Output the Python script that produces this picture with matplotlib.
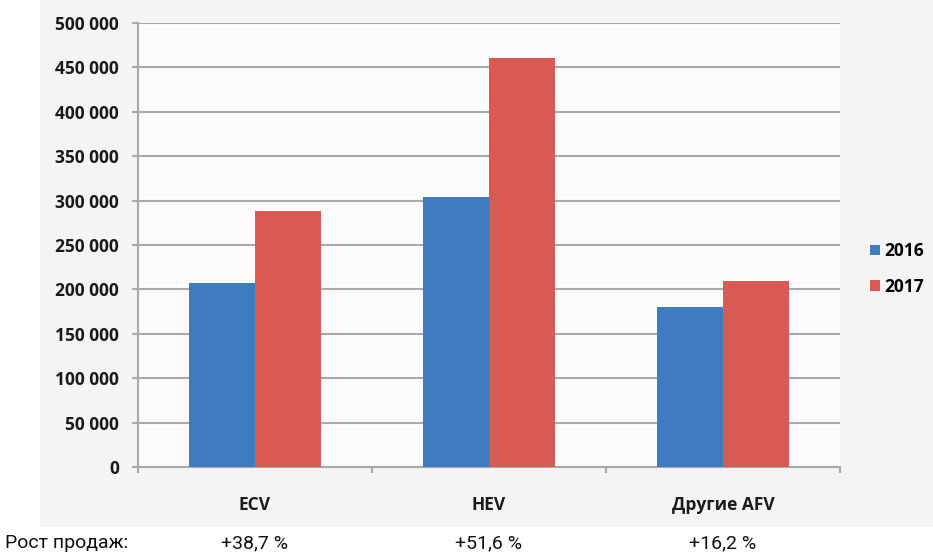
import matplotlib
matplotlib.use("Agg")
import matplotlib.pyplot as plt
from matplotlib.patches import Rectangle
from matplotlib.ticker import FixedLocator, FuncFormatter
import matplotlib.transforms as mtransforms
from matplotlib.font_manager import FontProperties
import numpy as np

categories = ["ECV", "HEV", "Другие AFV"]
series_names = ["2016", "2017"]
values_2016 = [207500, 304000, 180000]
values_2017 = [287800, 461000, 209000]
growth_labels = ["+38,7 %", "+51,6 %", "+16,2 %"]
growth_title = "Рост продаж:"
y_ticks = [0, 50000, 100000, 150000, 200000, 250000, 300000, 350000, 400000, 450000, 500000]

blue = "#3e7cbf"
red = "#d95a55"
grid_c = "#a9a9a9"

W, H = 933, 555
fig = plt.figure(figsize=(W / 100, H / 100), dpi=100)
fig.patch.set_facecolor("white")

fig.patches.append(Rectangle((40 / W, 1 - 527 / H), 1 - 40 / W, 527 / H,
                             transform=fig.transFigure, facecolor="#f4f4f4",
                             edgecolor="none", zorder=-10))

ax = fig.add_axes([138 / W, 1 - 467 / H, (840 - 138) / W, (467 - 23) / H])
ax.set_facecolor("#fcfcfc")

x = np.arange(len(categories))
bw = 0.282
b1 = ax.bar(x - bw / 2, values_2016, width=bw, color=blue, label=series_names[0], zorder=3)
b2 = ax.bar(x + bw / 2, values_2017, width=bw, color=red, label=series_names[1], zorder=3)

ax.set_xlim(-0.5, len(categories) - 0.5)
ax.set_ylim(0, 500000)

ax.yaxis.set_major_locator(FixedLocator(y_ticks))
ax.yaxis.set_major_formatter(FuncFormatter(lambda v, p: f"{int(v):,}".replace(",", " ")))
ax.grid(axis="y", color=grid_c, linewidth=1.5, zorder=0)
ax.set_axisbelow(True)

for s in ["top", "right"]:
    ax.spines[s].set_visible(False)
for s in ["left", "bottom"]:
    ax.spines[s].set_color(grid_c)
    ax.spines[s].set_linewidth(1.5)

def tick_fp():
    return FontProperties(family=["Open Sans", "DejaVu Sans"], weight="bold", size=12.5)

ax.tick_params(axis="y", length=4.3, width=1.5, color=grid_c, pad=9.5, labelcolor="#1a1a1a")
for lab in ax.get_yticklabels():
    lab.set_fontproperties(tick_fp())

ax.set_xticks(x)
ax.set_xticklabels(categories)
ax.tick_params(axis="x", which="major", length=0, pad=21, labelcolor="#1a1a1a")
for lab in ax.get_xticklabels():
    lab.set_fontproperties(tick_fp())
ax.set_xticks(np.arange(-0.5, len(categories)), minor=True)
ax.tick_params(axis="x", which="minor", length=4.3, width=1.5, color=grid_c, direction="out")

leg = fig.legend(handles=[b1, b2], labels=series_names, loc="center left",
                 bbox_to_anchor=(870 / W, 1 - 269 / H), bbox_transform=fig.transFigure,
                 frameon=False, handlelength=0.55, handleheight=0.55, handletextpad=0.3,
                 labelspacing=1.0, borderaxespad=0, borderpad=0,
                 prop=tick_fp())

narrow = ["Liberation Sans Narrow", "Roboto", "DejaVu Sans"]
fig.text(5 / W, 1 - 543 / H, growth_title, ha="left", va="center",
         family=narrow, size=14, color="#111111")
trans = mtransforms.blended_transform_factory(ax.transData, fig.transFigure)
for xi, g in zip(x, growth_labels):
    ax.text(xi, 1 - 543 / H, g, transform=trans, ha="center", va="center",
            family=narrow, size=14, color="#111111", clip_on=False)

fig.savefig("out.png", dpi=100, facecolor=fig.get_facecolor())
